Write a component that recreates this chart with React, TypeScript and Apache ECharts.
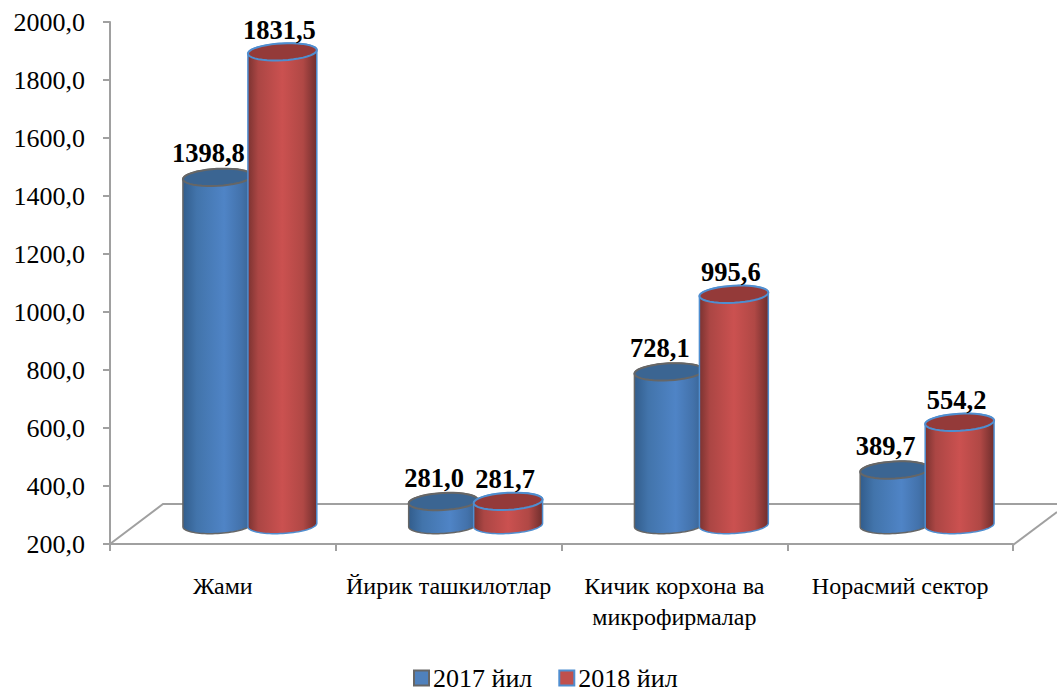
import React, { useEffect, useRef } from "react";
import * as echarts from "echarts";

const categories = ["Жами", "Йирик ташкилотлар", "Кичик корхона ва\nмикрофирмалар", "Норасмий сектор"];
const seriesNames = ["2017 йил", "2018 йил"];
const values2017 = [1398.8, 281.0, 728.1, 389.7];
const values2018 = [1831.5, 281.7, 995.6, 554.2];
const FONT = '"Liberation Serif", serif';
const fmt = (v: number) => v.toFixed(1).replace(".", ",");

const styles = [
  {
    stops: [[0, "#325d8c"], [0.2, "#4274ab"], [0.6, "#4f84c6"], [0.85, "#4372ab"], [1, "#38628f"]],
    top: "#3b6592", stroke: "#666666", barX: -30.5, labelDx: -9, labelDy: -24,
  },
  {
    stops: [[0, "#7b3331"], [0.15, "#ab4644"], [0.5, "#cb5150"], [0.8, "#b04845"], [1, "#6f2e2d"]],
    top: "#943a39", stroke: "#4f8ed0", barX: 34.5, labelDx: -3, labelDy: -22,
  },
];
const DX = 25, DEPTH = -19, RX = 34.5, RY = 8.5, TILT = -0.055;

function arc(cx: number, cy: number, from: number, to: number) {
  const pts: number[][] = [];
  const n = 40;
  for (let i = 0; i <= n; i++) {
    const a = from + ((to - from) * i) / n;
    const x = RX * Math.cos(a), y = RY * Math.sin(a);
    pts.push([cx + x * Math.cos(TILT) - y * Math.sin(TILT), cy + x * Math.sin(TILT) + y * Math.cos(TILT)]);
  }
  return pts;
}

function cylinder(idx: number) {
  const s = styles[idx];
  return (_: any, api: any) => {
    const [bx, yTop0] = api.coord([api.value(0), api.value(1)]);
    const [, yBase0] = api.coord([api.value(0), 200]);
    const cx = bx + DX + s.barX;
    const yTop = yTop0 + DEPTH, yBase = yBase0 + DEPTH;
    const body = [...arc(cx, yBase, 0, Math.PI), ...arc(cx, yTop, Math.PI, 2 * Math.PI)];
    return {
      type: "group",
      children: [
        {
          type: "polygon",
          shape: { points: body },
          style: {
            fill: new echarts.graphic.LinearGradient(0, 0, 1, 0, s.stops.map(([offset, color]) => ({ offset, color }))),
            stroke: s.stroke,
            lineWidth: 1.5,
          },
        },
        {
          type: "polygon",
          shape: { points: arc(cx, yTop, 0, 2 * Math.PI) },
          style: { fill: s.top, stroke: s.stroke, lineWidth: 2 },
        },
        {
          type: "text",
          z2: 10,
          style: {
            x: cx + s.labelDx,
            y: yTop + s.labelDy,
            text: fmt(api.value(1)),
            textAlign: "center",
            textVerticalAlign: "middle",
            font: `bold 26.5px ${FONT}`,
            fill: "#000",
          },
        },
      ],
    };
  };
}

export default function App() {
  const ref = useRef<HTMLDivElement>(null);
  useEffect(() => {
    const chart = echarts.init(ref.current!, null, { renderer: "svg" });
    const line = { stroke: "#a0a0a0", lineWidth: 2, fill: "none" };
    chart.setOption({
      animation: false,
      backgroundColor: "#fff",
      grid: { left: 110, right: 44, top: 22, bottom: 147, containLabel: false },
      legend: {
        top: 665,
        left: 411,
        padding: [0, 2],
        itemWidth: 15,
        itemHeight: 15,
        itemGap: 26,
        icon: "rect",
        textStyle: { fontFamily: FONT, fontSize: 26, color: "#000", padding: [0, 0, 0, -1] },
        data: seriesNames,
      },
      graphic: [
        { type: "polyline", z: 0, shape: { points: [[110, 544], [163, 504], [1057, 504]] }, style: line },
        { type: "polyline", z: 0, shape: { points: [[1013, 545], [1057, 512]] }, style: line },
      ],
      xAxis: {
        type: "category",
        data: categories,
        axisLine: { lineStyle: { color: "#a0a0a0", width: 2 } },
        axisTick: { show: true, length: 7, lineStyle: { color: "#a0a0a0", width: 2 } },
        axisLabel: { fontFamily: FONT, fontSize: 24, color: "#000", margin: 26, lineHeight: 31, interval: 0 },
      },
      yAxis: {
        type: "value",
        min: 200,
        max: 2000,
        interval: 200,
        splitLine: { show: false },
        axisLine: { show: true, lineStyle: { color: "#a0a0a0", width: 2 } },
        axisTick: { show: true, length: 7, lineStyle: { color: "#a0a0a0", width: 2 } },
        axisLabel: { fontFamily: FONT, fontSize: 26, color: "#000", margin: 25, formatter: (v: number) => fmt(v) },
      },
      series: [values2017, values2018].map((vals, i) => ({
        type: "custom",
        name: seriesNames[i],
        z: 3,
        clip: false,
        renderItem: cylinder(i),
        encode: { x: 0, y: 1 },
        itemStyle: { color: i === 0 ? "#4f81bd" : "#c0504d", borderColor: i === 0 ? "#666666" : "#4f8ed0", borderWidth: 2 },
        data: vals.map((v, k) => [k, v]),
      })),
    });
    return () => chart.dispose();
  }, []);
  return <div ref={ref} style={{ position: "fixed", left: 0, top: 0, width: 1057, height: 691 }} />;
}
